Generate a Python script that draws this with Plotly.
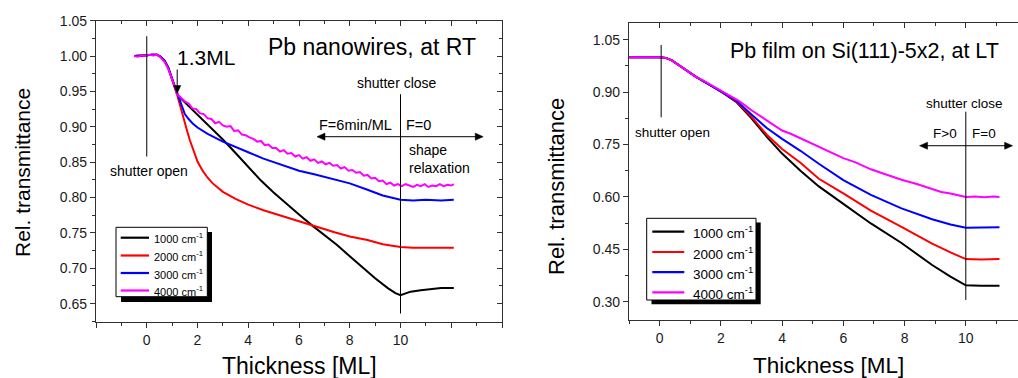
import plotly.graph_objects as go

W, H = 1018, 378
FONT = "Arial, Liberation Sans, Helvetica, sans-serif"

# ---------------- Left panel: Pb nanowires, at RT ----------------
nw_1000_x = [-0.50, -0.30, 0.00, 0.20, 0.40, 0.55, 0.70, 0.85, 1.00, 1.10, 1.20, 1.40, 1.60, 1.80, 2.00,
             2.30, 2.60, 3.00, 3.50, 4.00, 4.50, 5.00, 5.50, 6.00, 6.50, 7.00, 7.50, 8.00, 8.50, 9.00,
             9.50, 9.80, 10.00, 10.15, 10.40, 10.80, 11.20, 11.60, 12.10]
nw_1000_y = [1.000, 1.000, 1.001, 1.002, 1.002, 0.999, 0.994, 0.984, 0.969, 0.957, 0.946, 0.938, 0.931, 0.925, 0.918,
             0.907, 0.896, 0.882, 0.863, 0.843, 0.824, 0.807, 0.791, 0.776, 0.761, 0.747, 0.733, 0.717, 0.701, 0.686,
             0.672, 0.665, 0.662, 0.664, 0.667, 0.669, 0.671, 0.672, 0.672]

nw_2000_x = [-0.50, -0.30, 0.00, 0.20, 0.40, 0.55, 0.70, 0.85, 1.00, 1.10, 1.20, 1.30, 1.40, 1.50, 1.60,
             1.70, 1.80, 1.90, 2.00, 2.20, 2.40, 2.60, 2.80, 3.00, 3.50, 4.00, 4.60, 5.30, 6.00, 6.60,
             7.40, 8.00, 8.70, 9.30, 10.00, 10.50, 11.20, 12.10]
nw_2000_y = [1.000, 1.000, 1.001, 1.002, 1.002, 0.999, 0.993, 0.983, 0.968, 0.956, 0.945, 0.932, 0.918, 0.905, 0.893,
             0.881, 0.870, 0.860, 0.851, 0.838, 0.828, 0.820, 0.814, 0.808, 0.798, 0.790, 0.782, 0.774, 0.766, 0.760,
             0.751, 0.745, 0.740, 0.734, 0.730, 0.729, 0.729, 0.729]

nw_3000_x = [-0.50, -0.30, 0.00, 0.20, 0.40, 0.55, 0.70, 0.85, 1.00, 1.10, 1.20, 1.30, 1.40, 1.50, 1.65,
             1.80, 2.00, 2.40, 3.00, 3.50, 4.00, 4.60, 5.30, 6.00, 6.60, 7.40, 8.00, 8.70, 9.30, 10.00,
             10.50, 11.00, 11.60, 12.10]
nw_3000_y = [1.000, 1.000, 1.001, 1.002, 1.002, 0.999, 0.993, 0.983, 0.968, 0.956, 0.946, 0.935, 0.925, 0.918, 0.911,
             0.905, 0.899, 0.890, 0.879, 0.871, 0.864, 0.855, 0.847, 0.838, 0.833, 0.826, 0.820, 0.811, 0.803, 0.797,
             0.796, 0.797, 0.796, 0.797]

nw_4000_x = [-0.50, -0.35, -0.20, -0.05, 0.10, 0.25, 0.40, 0.55, 0.70, 0.85, 1.00, 1.10, 1.20, 1.35, 1.50,
             1.65, 1.80, 1.95, 2.10, 2.25, 2.40, 2.55, 2.70, 2.85, 3.00, 3.15, 3.30, 3.45, 3.60, 3.75,
             3.90, 4.05, 4.20, 4.35, 4.50, 4.65, 4.80, 4.95, 5.10, 5.25, 5.40, 5.55, 5.70, 5.85, 6.00,
             6.15, 6.30, 6.45, 6.60, 6.75, 6.90, 7.05, 7.20, 7.35, 7.50, 7.65, 7.80, 7.95, 8.10, 8.25,
             8.40, 8.55, 8.70, 8.85, 9.00, 9.15, 9.30, 9.45, 9.60, 9.75, 9.90, 10.05, 10.20, 10.35, 10.50,
             10.65, 10.80, 10.95, 11.10, 11.25, 11.40, 11.55, 11.70, 11.85, 12.00, 12.10]
nw_4000_y = [1.000, 0.999, 1.001, 1.000, 1.002, 1.001, 1.002, 0.998, 0.992, 0.982, 0.967, 0.955, 0.946, 0.941, 0.936,
             0.933, 0.926, 0.925, 0.919, 0.918, 0.912, 0.911, 0.905, 0.907, 0.902, 0.900, 0.901, 0.894, 0.895, 0.889,
             0.888, 0.885, 0.883, 0.879, 0.880, 0.874, 0.875, 0.870, 0.870, 0.865, 0.867, 0.862, 0.863, 0.858, 0.860,
             0.855, 0.857, 0.852, 0.854, 0.849, 0.851, 0.847, 0.849, 0.845, 0.846, 0.841, 0.843, 0.838, 0.839, 0.835,
             0.836, 0.831, 0.832, 0.827, 0.828, 0.823, 0.824, 0.819, 0.821, 0.817, 0.819, 0.816, 0.819, 0.817, 0.815,
             0.818, 0.816, 0.819, 0.815, 0.817, 0.816, 0.819, 0.816, 0.818, 0.817, 0.819]

# ---------------- Right panel: Pb film on Si(111)-5x2, at LT ----------------
film_x = [-1.00, -0.60, -0.20, 0.00, 0.20, 0.40, 0.60, 0.80, 1.00, 1.20, 1.40, 1.60, 1.80, 2.00,
          2.50, 3.00, 3.50, 4.00, 4.60, 5.20, 6.00, 6.90, 7.90, 8.90, 9.50, 10.00, 10.50, 11.10]
film_1000_y = [1.000, 1.001, 1.000, 1.000, 0.998, 0.991, 0.979, 0.966, 0.954, 0.943, 0.933, 0.923, 0.913, 0.902,
               0.872, 0.825, 0.772, 0.724, 0.675, 0.630, 0.580, 0.524, 0.468, 0.405, 0.372, 0.347, 0.346, 0.346]
film_2000_y = [1.000, 1.001, 1.000, 1.000, 0.998, 0.991, 0.979, 0.966, 0.954, 0.943, 0.933, 0.923, 0.913, 0.902,
               0.874, 0.829, 0.778, 0.737, 0.698, 0.652, 0.610, 0.561, 0.514, 0.466, 0.441, 0.422, 0.421, 0.422]
film_3000_y = [1.000, 1.001, 1.000, 1.000, 0.998, 0.991, 0.979, 0.966, 0.954, 0.943, 0.933, 0.923, 0.913, 0.902,
               0.876, 0.836, 0.797, 0.766, 0.732, 0.695, 0.648, 0.606, 0.567, 0.536, 0.521, 0.512, 0.512, 0.513]
film_4000_x = [-1.00, -0.60, -0.20, 0.00, 0.20, 0.40, 0.60, 0.80, 1.00, 1.20, 1.40, 1.60, 1.80, 2.00,
               2.30, 2.60, 3.00, 3.30, 3.60, 4.00, 4.30, 4.60, 4.90, 5.20, 5.60, 6.00, 6.40, 6.90, 7.30,
               7.90, 8.40, 8.90, 9.20, 9.50, 9.80, 10.00, 10.30, 10.60, 10.90, 11.10]
film_4000_y = [1.000, 1.001, 1.000, 1.000, 0.998, 0.991, 0.979, 0.966, 0.954, 0.943, 0.934, 0.924, 0.914, 0.903,
               0.889, 0.874, 0.848, 0.830, 0.812, 0.790, 0.780, 0.768, 0.757, 0.743, 0.729, 0.711, 0.699, 0.679, 0.667,
               0.649, 0.637, 0.623, 0.614, 0.610, 0.603, 0.600, 0.601, 0.599, 0.601, 0.600]

series_names = ["1000 cm<sup>-1</sup>", "2000 cm<sup>-1</sup>", "3000 cm<sup>-1</sup>", "4000 cm<sup>-1</sup>"]
series_colors = ["#000000", "#ff0000", "#0000ff", "#ff00ff"]

left_x_ticks = [0, 2, 4, 6, 8, 10]
left_x_extra_ticks = [-2, 12, 14]
left_x_all_ticks = [-2, 0, 2, 4, 6, 8, 10, 12, 14]
left_y_ticks = [0.65, 0.70, 0.75, 0.80, 0.85, 0.90, 0.95, 1.00, 1.05]
right_x_ticks = [0, 2, 4, 6, 8, 10]
right_y_ticks = [0.30, 0.45, 0.60, 0.75, 0.90, 1.05]

fig = go.Figure()

left_sets = [(nw_1000_x, nw_1000_y), (nw_2000_x, nw_2000_y), (nw_3000_x, nw_3000_y), (nw_4000_x, nw_4000_y)]
for (xs, ys), name, col in zip(left_sets, series_names, series_colors):
    fig.add_trace(go.Scatter(x=xs, y=ys, mode="lines", name=name, line=dict(color=col, width=2),
                             xaxis="x", yaxis="y", showlegend=False))

right_sets = [(film_x, film_1000_y), (film_x, film_2000_y), (film_x, film_3000_y), (film_4000_x, film_4000_y)]
for (xs, ys), name, col in zip(right_sets, series_names, series_colors):
    fig.add_trace(go.Scatter(x=xs, y=ys, mode="lines", name=name, line=dict(color=col, width=2),
                             xaxis="x2", yaxis="y2", showlegend=False))

# empty helper traces so the frame / extra-tick axes are drawn
for xa, ya in [("x3", "y"), ("x", "y3"), ("x5", "y"), ("x4", "y2")]:
    fig.add_trace(go.Scatter(x=[None], y=[None], xaxis=xa, yaxis=ya, showlegend=False, hoverinfo="skip"))

AX = "#303030"
TICKFONT = dict(family=FONT, size=14, color="#1a1a1a")

def axis(rng, dom, tickvals, ticktext, minor_dtick, minor_tick0, anchor, side, ticks="outside",
         labels=True, overlaying=None, showline=True, minor=True):
    d = dict(range=rng, domain=dom, anchor=anchor, side=side, showgrid=False, zeroline=False,
             showline=showline, linecolor=AX, linewidth=1.2, ticks=ticks, ticklen=5, tickwidth=1.2,
             tickcolor=AX, tickmode="array", tickvals=tickvals, showticklabels=labels,
             tickfont=TICKFONT, fixedrange=True, autorange=False)
    if labels:
        d["ticktext"] = ticktext
    if minor:
        d["minor"] = dict(dtick=minor_dtick, tick0=minor_tick0, ticks=ticks, ticklen=3,
                          tickwidth=1.2, tickcolor=AX)
    if overlaying:
        d["overlaying"] = overlaying
    return d

LX = [96 / W, 502 / W]
LY = [1 - 321.7 / H, 1 - 20.7 / H]
RX = [629 / W, 1.0]
RY = [1 - 320 / H, 1 - 22.7 / H]
L_XR = [-2, 14]
L_YR = [0.6245, 1.05]
R_XR = [-1, 11.705]
R_YR = [0.2476, 1.0987]

fmt2 = lambda v: f"{v:.2f}"

fig.update_layout(
    width=W, height=H, margin=dict(l=0, r=0, t=0, b=0, pad=0, autoexpand=False),
    paper_bgcolor="white", plot_bgcolor="white",
    font=dict(family=FONT, color="black", size=14),
    showlegend=False,
    xaxis=axis(L_XR, LX, left_x_ticks, [str(v) for v in left_x_ticks], 1, 0, "y", "bottom"),
    yaxis=axis(L_YR, LY, left_y_ticks, [fmt2(v) for v in left_y_ticks], 0.025, 0.65, "x", "left"),
    xaxis3=axis(L_XR, LX, left_x_all_ticks, None, 1, 0, "y", "top", ticks="inside",
                labels=False, overlaying="x"),
    yaxis3=axis(L_YR, LY, left_y_ticks, None, 0.025, 0.65, "x", "right",
                ticks="inside", labels=False, overlaying="y"),
    xaxis5=axis(L_XR, LX, left_x_extra_ticks, None, 1, 0, "y", "bottom", labels=False,
                overlaying="x", showline=False, minor=False),
    xaxis2=axis(R_XR, RX, right_x_ticks, [str(v) for v in right_x_ticks], 1, 0, "y2", "bottom"),
    yaxis2=axis(R_YR, RY, right_y_ticks, [fmt2(v) for v in right_y_ticks], 0.075, 0.30, "x2", "left"),
    xaxis4=axis(R_XR, RX, right_x_ticks, None, 1, 0, "y2", "top", ticks="inside",
                labels=False, overlaying="x2"),
)

# pixel helpers (paper coordinates) for legend boxes
px = lambda v: v / W
py = lambda v: 1 - v / H

shapes = []
# legend frames with drop shadow
for (sx0, sy0, sx1, sy1), (bx0, by0, bx1, by1) in [
        ((121, 232, 212, 302), (116, 227.3, 207.3, 296.7)),
        ((651.5, 222.6, 760.7, 304.3), (646.7, 218.3, 756, 300))]:
    shapes.append(dict(type="rect", xref="paper", yref="paper", x0=px(sx0), x1=px(sx1), y0=py(sy1), y1=py(sy0),
                       fillcolor="black", line=dict(width=0), layer="above"))
    shapes.append(dict(type="rect", xref="paper", yref="paper", x0=px(bx0), x1=px(bx1), y0=py(by1), y1=py(by0),
                       fillcolor="white", line=dict(color="black", width=1), layer="above"))

legend_rows_left = [237.7, 255.5, 273.0, 290.5]
legend_rows_right = [231.7, 252.0, 272.2, 292.3]
for i, col in enumerate(series_colors):
    shapes.append(dict(type="line", xref="paper", yref="paper", x0=px(120.7), x1=px(149),
                       y0=py(legend_rows_left[i]), y1=py(legend_rows_left[i]),
                       line=dict(color=col, width=2.2), layer="above"))
    shapes.append(dict(type="line", xref="paper", yref="paper", x0=px(652.3), x1=px(684.3),
                       y0=py(legend_rows_right[i]), y1=py(legend_rows_right[i]),
                       line=dict(color=col, width=2.2), layer="above"))

# shutter marker lines
line_k = dict(color="black", width=1)
shapes += [
    dict(type="line", xref="x", yref="y", x0=0, x1=0, y0=0.858, y1=1.028, line=line_k),
    dict(type="line", xref="x", yref="y", x0=10, x1=10, y0=0.636, y1=0.946, line=line_k),
    dict(type="line", xref="x2", yref="y2", x0=0.05, x1=0.05, y0=0.828, y1=1.035, line=line_k),
    dict(type="line", xref="x2", yref="y2", x0=10, x1=10, y0=0.305, y1=0.844, line=line_k),
]

# arrows (line + filled head); head sizes expressed in each axis' units (8 px long, 7 px wide)
L_UX = (L_XR[1] - L_XR[0]) / 406.0
L_UY = (L_YR[1] - L_YR[0]) / 301.0
R_UX = (R_XR[1] - R_XR[0]) / 389.0
R_UY = (R_YR[1] - R_YR[0]) / 297.3

def head(xt, yt, dx, dy, ux, uy, xref, yref):
    L, Wd = 8.0, 3.6
    bx, by = xt - dx * L * ux, yt - dy * L * uy
    p1 = (bx - dy * Wd * ux, by + dx * Wd * uy)
    p2 = (bx + dy * Wd * ux, by - dx * Wd * uy)
    path = f"M {xt},{yt} L {p1[0]},{p1[1]} L {p2[0]},{p2[1]} Z"
    return dict(type="path", xref=xref, yref=yref, path=path, fillcolor="black",
                line=dict(color="black", width=0.5), layer="above")

# 1.3ML arrow (downward)
shapes.append(dict(type="line", xref="x", yref="y", x0=1.2, x1=1.2, y0=0.981, y1=0.947 + 6 * L_UY, line=line_k))
shapes.append(head(1.2, 0.947, 0, -1, L_UX, L_UY, "x", "y"))
# left double arrow
shapes.append(dict(type="line", xref="x", yref="y", x0=6.71 + 6 * L_UX, x1=13.26 - 6 * L_UX, y0=0.886, y1=0.886, line=line_k))
shapes.append(head(6.71, 0.886, -1, 0, L_UX, L_UY, "x", "y"))
shapes.append(head(13.26, 0.886, 1, 0, L_UX, L_UY, "x", "y"))
# right double arrow
shapes.append(dict(type="line", xref="x2", yref="y2", x0=8.49 + 6 * R_UX, x1=11.53 - 6 * R_UX, y0=0.7465, y1=0.7465, line=line_k))
shapes.append(head(8.49, 0.7465, -1, 0, R_UX, R_UY, "x2", "y2"))
shapes.append(head(11.53, 0.7465, 1, 0, R_UX, R_UY, "x2", "y2"))

fig.update_layout(shapes=shapes)

def txt(x, y, s, size, xref="x", yref="y", xanchor="center", align="center", angle=0):
    return dict(x=x, y=y, xref=xref, yref=yref, text=s, showarrow=False, xanchor=xanchor, yanchor="middle",
                align=align, textangle=angle, font=dict(family=FONT, size=size, color="black"))

ann = [
    # left panel
    txt(4.71, 1.0128, "Pb nanowires, at RT", 23, xanchor="left"),
    txt(2.34, 0.9986, "1.3ML", 21),
    txt(0.075, 0.8373, "shutter open", 14),
    txt(9.87, 0.9618, "shutter close", 14),
    txt(8.24, 0.9024, "F=6min/ML", 14.5),
    txt(10.69, 0.9024, "F=0", 14.5),
    txt(10.24, 0.854, "shape<br>relaxation", 14, xanchor="left", align="left"),
    # right panel
    txt(2.217, 1.0176, "Pb film on Si(111)-5x2, at LT", 21.5, xref="x2", yref="y2", xanchor="left"),
    txt(0.414, 0.783, "shutter open", 13.5, xref="x2", yref="y2"),
    txt(9.945, 0.868, "shutter close", 13.5, xref="x2", yref="y2"),
    txt(9.325, 0.782, "F&gt;0", 13.5, xref="x2", yref="y2"),
    txt(10.6, 0.782, "F=0", 13.5, xref="x2", yref="y2"),
    # axis titles
    txt(px(299), py(366), "Thickness [ML]", 23, xref="paper", yref="paper"),
    txt(px(828), py(365), "Thickness [ML]", 22.5, xref="paper", yref="paper"),
    txt(px(22), py(173), "Rel. transmittance", 21, xref="paper", yref="paper", angle=-90),
    txt(px(557), py(187), "Rel. transmittance", 22, xref="paper", yref="paper", angle=-90),
]
# manual legends
for i, name in enumerate(series_names):
    ann.append(txt(px(151.5), py(legend_rows_left[i] + 0.5), name, 11, xref="paper", yref="paper", xanchor="left"))
    ann.append(txt(px(690.5), py(legend_rows_right[i] + 0.5), name, 13.5, xref="paper", yref="paper", xanchor="left"))

fig.update_layout(annotations=ann)

fig.write_html("out.html")
